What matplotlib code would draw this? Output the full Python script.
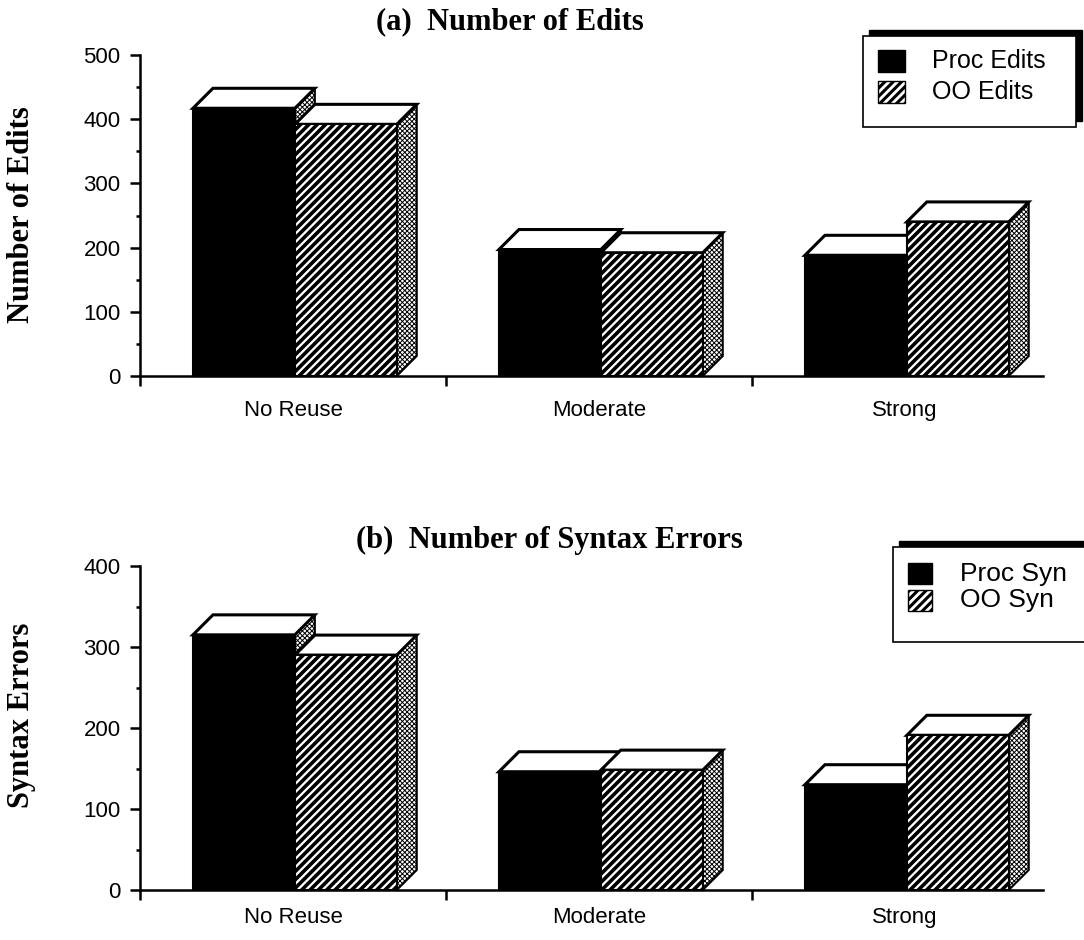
#!/usr/bin/env python3
"""
Two-panel 3D-style bar chart: (a) number of edits, (b) number of syntax errors,
procedural vs OO, for three levels of reuse.
"""

import matplotlib

matplotlib.use("Agg")
import matplotlib.pyplot as plt
from matplotlib.patches import Polygon, Rectangle
from matplotlib.ticker import MultipleLocator

W, H = 1084, 940

categories = ["No Reuse", "Moderate", "Strong"]
edits_proc = [417, 197, 188]
edits_oo = [392, 192, 240]
syntax_proc = [315, 146, 130]
syntax_oo = [290, 148, 191]

SANS = "Liberation Sans"
SERIF = "Liberation Serif"

PX_PER_CAT = 306      # pixel width of one category slot
BAR_OFFSET = 0.173    # gap before the first bar, in category units
BAR_W = 0.333
DEPTH_PX = 20         # 3D depth of the boxes, pixels
AX_LEFT, AX_RIGHT = 140, 1043
OO_HATCH = "////"

plt.rcParams["font.family"] = [SANS, "DejaVu Sans"]


def fx(px):
    return px / W


def fy(py):
    return 1 - py / H


def hatch_lw(patch, lw):
    if hasattr(patch, "set_hatch_linewidth"):
        patch.set_hatch_linewidth(lw)
    return patch


def box(ax, x0, h, dx, dy, style):
    """Front face + white top + shaded side."""
    x1 = x0 + BAR_W
    side = Polygon([(x1, 0), (x1 + dx, dy), (x1 + dx, h + dy), (x1, h)],
                   closed=True, facecolor="white", edgecolor="black",
                   hatch="xxxxxxx", linewidth=1.5, clip_on=False, zorder=3)
    ax.add_patch(hatch_lw(side, 0.7))
    top = Polygon([(x0, h), (x1, h), (x1 + dx, h + dy), (x0 + dx, h + dy)],
                  closed=True, facecolor="white", edgecolor="black",
                  linewidth=2.2, clip_on=False, zorder=3)
    ax.add_patch(top)
    if style == "proc":
        bars = ax.bar(x0, h, BAR_W, align="edge", color="black",
                      edgecolor="black", linewidth=1.5, zorder=3)
    else:
        bars = ax.bar(x0, h, BAR_W, align="edge", color="white",
                      edgecolor="black", hatch=OO_HATCH, linewidth=1.5, zorder=3)
        for b in bars:
            hatch_lw(b, 2.6)
    for b in bars:
        b.set_clip_on(False)


def panel(fig, top, bottom, ymax, proc, oo, xpad):
    ax = fig.add_axes([fx(AX_LEFT), fy(bottom),
                       fx(AX_RIGHT) - fx(AX_LEFT), fy(top) - fy(bottom)])
    ax.set_xlim(0, (AX_RIGHT - AX_LEFT) / PX_PER_CAT)
    ax.set_ylim(0, ymax)

    dx = DEPTH_PX / PX_PER_CAT
    dy = DEPTH_PX * ymax / (bottom - top)
    for i in range(len(categories)):
        box(ax, i + BAR_OFFSET, proc[i], dx, dy, "proc")
        box(ax, i + BAR_OFFSET + BAR_W, oo[i], dx, dy, "oo")

    ax.spines[["top", "right"]].set_visible(False)
    ax.spines[["left", "bottom"]].set_linewidth(1.8)
    ax.spines[["left", "bottom"]].set_zorder(4)

    ax.yaxis.set_major_locator(MultipleLocator(100))
    ax.yaxis.set_minor_locator(MultipleLocator(50))
    ax.tick_params(axis="y", which="major", length=7, width=1.8, pad=7, labelsize=16)
    ax.tick_params(axis="y", which="minor", length=3, width=1.8)

    ax.set_xticks(range(len(categories)))
    ax.set_xticklabels([])
    ax.set_xticks([i + 0.5 for i in range(len(categories))], minor=True)
    ax.set_xticklabels(categories, minor=True)
    ax.tick_params(axis="x", which="major", length=7, width=1.8)
    ax.tick_params(axis="x", which="minor", length=0, pad=xpad, labelsize=16)
    return ax


def legend_box(fig, x0, y0, x1, y1, entries, sq_x, text_x, font):
    shadow = Rectangle((fx(x0 + 6), fy(y1 - 6)), fx(x1) - fx(x0), fy(y0) - fy(y1),
                       transform=fig.transFigure, facecolor="black",
                       edgecolor="black", zorder=5)
    frame = Rectangle((fx(x0), fy(y1)), fx(x1) - fx(x0), fy(y0) - fy(y1),
                      transform=fig.transFigure, facecolor="white",
                      edgecolor="black", linewidth=1.2, zorder=6)
    fig.add_artist(shadow)
    fig.add_artist(frame)
    for (label, style, ya, yb) in entries:
        sq = Rectangle((fx(sq_x[0]), fy(yb)), fx(sq_x[1]) - fx(sq_x[0]), fy(ya) - fy(yb),
                       transform=fig.transFigure, zorder=7, linewidth=1,
                       facecolor="black" if style == "proc" else "white",
                       edgecolor="black", hatch=None if style == "proc" else OO_HATCH)
        fig.add_artist(hatch_lw(sq, 2.2))
        fig.text(fx(text_x), fy((ya + yb) / 2), label, fontsize=font,
                 family=[SANS, "DejaVu Sans"], ha="left", va="center", zorder=8)


def main():
    fig = plt.figure(figsize=(W / 100, H / 100), dpi=100)

    panel(fig, 55, 376, 500, edits_proc, edits_oo, xpad=17)
    panel(fig, 566, 890, 400, syntax_proc, syntax_oo, xpad=12)

    title_kw = dict(ha="center", va="center", fontsize=22, fontweight="bold",
                    family=[SERIF, "DejaVu Serif"])
    fig.text(fx(510), fy(22), "(a)  Number of Edits", **title_kw)
    fig.text(fx(549), fy(540), "(b)  Number of Syntax Errors", **title_kw)
    fig.text(fx(22), fy(215), "Number of Edits", rotation=90, **title_kw)
    fig.text(fx(22), fy(715), "Syntax Errors", rotation=90, **title_kw)

    legend_box(fig, 863, 36, 1076, 127,
               [("Proc Edits", "proc", 50, 72), ("OO Edits", "oo", 81, 103)],
               sq_x=(878, 905), text_x=932, font=18)
    legend_box(fig, 893, 547, 1095, 642,
               [("Proc Syn", "proc", 563, 584), ("OO Syn", "oo", 590, 611)],
               sq_x=(908, 932), text_x=960, font=19)

    fig.savefig("out.png", dpi=100)
    plt.close(fig)


if __name__ == "__main__":
    main()
